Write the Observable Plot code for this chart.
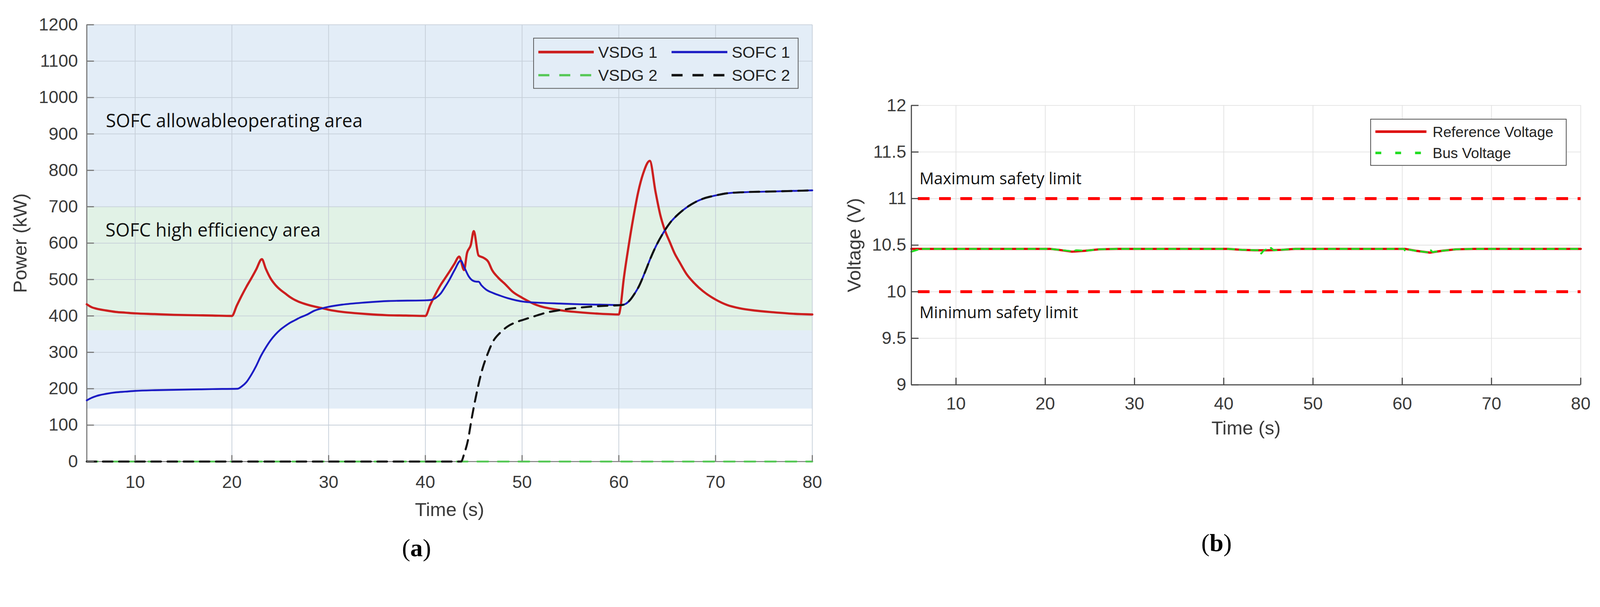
<!DOCTYPE html>
<html>
<head>
<meta charset="utf-8">
<script src="https://cdn.jsdelivr.net/npm/d3@7"></script>
<script src="https://cdn.jsdelivr.net/npm/@observablehq/plot@0.6"></script>
<style>
  html, body { margin: 0; padding: 0; background: #fff; overflow: hidden; }
  #page { position: relative; width: 4360px; height: 1555px; overflow: hidden; background: #fff; transform-origin: 0 0; }
  .panel { position: absolute; top: 0; }
  .panel svg { display: block; max-width: none; }
  .legend { position: absolute; box-sizing: border-box; }
  .legend svg { display: block; }
  .cap { position: absolute; font-family: "Liberation Serif", "Times New Roman", serif; font-size: 68px; color: #000; transform: translate(-50%, -50%); white-space: nowrap; }
</style>
</head>
<body>
<div id="page">
  <div id="left" class="panel" style="left:0; width:2300px;"></div>
  <div id="right" class="panel" style="left:2300px; width:2060px;"></div>
  <div class="cap" style="left:1135px; top:1494px;">(<b>a</b>)</div>
  <div class="cap" style="left:3315px; top:1480px;">(<b>b</b>)</div>
</div>
<script>
// fit the 4360x1555 layout into the actual viewport
(function () {
  const page = document.getElementById("page");
  const s = Math.min(window.innerWidth / 4360, window.innerHeight / 1555);
  if (isFinite(s) && s > 0 && Math.abs(s - 1) > 0.001) page.style.transform = `scale(${s})`;
})();

// ---------- shared axis values ----------
const timeDomain = [5, 80];
const timeTicks = [10, 20, 30, 40, 50, 60, 70, 80];

// ---------- panel (a): power ----------
const powerDomain = [0, 1200];
const powerTicks = [0, 100, 200, 300, 400, 500, 600, 700, 800, 900, 1000, 1100, 1200];
const allowableArea = [145, 1200];      // SOFC allowable operating area (kW)
const highEfficiencyArea = [360, 700];  // SOFC high efficiency area (kW)

// [time s, power kW]
const vsdg1 = [
  [5,432],[5.5,424],[6,420],[7,415],[8,411],[9,409],[10,407],[12,405],[14,403],[16,402],[18,401],[20,400],
  [20.5,428],[21,455],[21.5,480],[22,503],[22.5,527],[23.1,556],
  [23.5,530],[24,503],[24.5,485],[25,472],[25.5,462],[26,452],[26.5,444],[27,438],[27.8,431],[28.5,426],
  [29.2,422],[30,417],[31.4,411],[33,407],[34,405],[36,402],[38,401],[40,400],
  [40.5,430],[41,457],[41.6,486],[42,502],[42.5,522],[43,543],[43.5,563],[44,526],[44.3,572],[44.7,595],
  [45,633],[45.5,566],[46,560],[46.5,549],[46.9,526],[47.5,506],[48.3,486],[49,467],[50,450],[51.5,430],
  [53.9,416],[56.4,409],[58,406],[60,404],
  [60.15,420],[60.5,500],[61,590],[61.5,670],[62,740],[62.5,790],[63.2,826],
  [63.8,740],[64.3,676],[64.7,640],[65.3,601],[65.8,570],[66.25,549],[67,515],[67.8,490],[68.7,468],
  [70,445],[71.2,430],[72.5,421],[74,415],[76,410],[78,406],[80,404]
];
const sofc1 = [
  [5,168],[5.5,175],[6,180],[7,186],[8,190],[9,192],[10,194],[12,196],[14,197],[16,198],[18,199],[20.6,200],
  [21,206],[21.5,218],[22,238],[22.5,262],[23,290],[23.5,313],[24,333],[24.5,349],[25,362],[25.5,372],
  [26,381],[26.5,388],[27,395],[27.8,404],[28.5,414],[29.2,420],[30,425],[31.4,431],[33.8,437],[36.2,441],
  [40.1,443],[40.6,444],[41.1,450],[41.6,462],
  [42,478],[42.5,500],[43,525],[43.66,552],[44,535],[44.5,508],[44.9,497],[45.3,494],[45.5,494],[45.8,484],
  [46.25,473],[47,463],[47.7,456],[48.5,449],[50.2,439],[52,436],[53.9,434],[56,432],[58,431],[60.3,430],
  [60.7,433],[61.2,445],[61.6,460],[62.05,480],[62.7,520],[63.3,560],[63.9,595],[64.5,624],[65.3,656],
  [66.25,682],[67.4,705],[68.7,722],[70,731],[71.2,737],[73,740],[76.1,742],[80,745]
];
const vsdg2 = [[5,0],[20,0],[40,0],[60,0],[80,0]];
const sofc2 = [
  [5,0],[20,0],[40,0],[43.7,0],[44,20],[44.4,58],[44.8,120],[45.27,184],[45.8,245],[46.5,300],[47,330],
  [47.7,353],[48.5,371],[49.3,382],[50.2,390],[51.5,401],[52.5,409],[53.9,416],[55,420],[56.4,424],[58,427],
  [60.3,430],[60.7,433],[61.2,445],[61.6,460],[62.05,480],[62.7,520],[63.3,560],[63.9,595],[64.5,624],
  [65.3,656],[66.25,682],[67.4,705],[68.7,722],[70,731],[71.2,737],[73,740],[76.1,742],[80,745]
];

// ---------- panel (b): voltage ----------
const voltageDomain = [9, 12];
const voltageTicks = [9, 9.5, 10, 10.5, 11, 11.5, 12];
const safetyLimits = [11, 10];
// [time s, voltage V]
const referenceVoltage = [
  [5,10.46],[20.5,10.46],[21.5,10.45],[23,10.43],[24.5,10.44],[26,10.455],[28,10.46],[40.5,10.46],
  [42,10.45],[43.5,10.445],[45,10.445],[46.5,10.45],[48,10.46],[60.3,10.46],[61.5,10.44],[63.1,10.42],
  [64.5,10.44],[66,10.455],[68,10.46],[80,10.46]
];
const busVoltage = [
  [5,10.43],[5.5,10.445],[6,10.46],[20.5,10.46],[21.5,10.45],[23,10.435],[23.5,10.445],[24.5,10.44],
  [26,10.455],[28,10.46],[40.5,10.46],[42,10.45],[44,10.445],[44.2,10.41],[44.5,10.445],[45.3,10.47],
  [45.6,10.445],[46.5,10.45],[48,10.46],[60.2,10.46],[60.3,10.44],[60.6,10.455],[61.5,10.44],[63.1,10.42],
  [63.2,10.445],[63.4,10.425],[64.5,10.44],[66,10.455],[68,10.46],[80,10.46]
];

// ---------- styling ----------
const SANS = '"Liberation Sans", Arial, Helvetica, sans-serif';
const CAL = '"Open Sans", "Noto Sans", sans-serif';
const powerStyles = [
  {name: "VSDG 1", data: vsdg1, stroke: "#cc1f1f", width: 6, dash: null},
  {name: "SOFC 1", data: sofc1, stroke: "#1c1cc4", width: 5, dash: null},
  {name: "VSDG 2", data: vsdg2, stroke: "#55c855", width: 5, dash: "30,26"},
  {name: "SOFC 2", data: sofc2, stroke: "#111111", width: 5.5, dash: "26,18"}
];
const annotationWidths = {
  "SOFC allowableoperating area": 667,
  "SOFC high efficiency area": 677,
  "Maximum safety limit": 500,
  "Minimum safety limit": 491
};
const X = d => d[0], Y = d => d[1];

// ---------- panel (a) ----------
const leftPlot = Plot.plot({
  width: 2300, height: 1450,
  marginLeft: 236, marginRight: 87, marginTop: 67, marginBottom: 192,
  x: {domain: timeDomain},
  y: {domain: powerDomain},
  style: {fontFamily: SANS, fontSize: "48px", color: "#3a3a3a", background: "transparent", overflow: "visible"},
  marks: [
    Plot.rect([allowableArea], {x1: () => timeDomain[0], x2: () => timeDomain[1], y1: d => d[0], y2: d => d[1], fill: "#e3edf7"}),
    Plot.rect([highEfficiencyArea], {x1: () => timeDomain[0], x2: () => timeDomain[1], y1: d => d[0], y2: d => d[1], fill: "#e1f2e6"}),
    Plot.gridX(timeTicks, {stroke: "#c6cfd9", strokeOpacity: 1, strokeWidth: 2}),
    Plot.gridY(powerTicks, {stroke: "#c6cfd9", strokeOpacity: 1, strokeWidth: 2}),
    Plot.text(["SOFC allowableoperating area"], {x: () => 6.97, y: () => 918, text: d => d, textAnchor: "start", lineAnchor: "bottom", fontFamily: CAL, fontSize: 50, fill: "#111", ariaLabel: "annotation"}),
    Plot.text(["SOFC high efficiency area"], {x: () => 6.93, y: () => 618, text: d => d, textAnchor: "start", lineAnchor: "bottom", fontFamily: CAL, fontSize: 50, fill: "#111", ariaLabel: "annotation"}),
    Plot.ruleX([timeDomain[0]], {stroke: "#777", strokeWidth: 3}),
    Plot.ruleY([powerDomain[0]], {stroke: "#888", strokeWidth: 3}),
    ...powerStyles.map(s => Plot.line(s.data, {x: X, y: Y, stroke: s.stroke, strokeWidth: s.width, strokeDasharray: s.dash, curve: "monotone-x"})),
    Plot.axisY(powerTicks, {anchor: "left", tickSize: 0, tickPadding: 24, tickFormat: d => String(d), label: null, fontSize: 48}),
    Plot.axisY(powerTicks, {anchor: "left", tickSize: -20, tickFormat: () => "", label: null, stroke: "#777", strokeWidth: 3}),
    Plot.axisX(timeTicks, {anchor: "bottom", tickSize: 0, tickPadding: 38, tickFormat: d => String(d), label: null, fontSize: 48}),
    Plot.axisX(timeTicks, {anchor: "bottom", tickSize: -17, tickFormat: () => "", label: null, stroke: "#777", strokeWidth: 3}),
    Plot.text(["Power (kW)"], {frameAnchor: "left", dx: -181, rotate: -90, text: d => d, textAnchor: "middle", lineAnchor: "middle", fontSize: 52, fill: "#3a3a3a"}),
    Plot.text(["Time (s)"], {frameAnchor: "bottom", dy: 132, text: d => d, textAnchor: "middle", lineAnchor: "middle", fontSize: 52, fill: "#3a3a3a"})
  ]
});
document.getElementById("left").appendChild(leftPlot);

// ---------- panel (b) ----------
const rightPlot = Plot.plot({
  width: 2060, height: 1250,
  marginLeft: 183, marginRight: 53, marginTop: 287, marginBottom: 201,
  x: {domain: timeDomain},
  y: {domain: voltageDomain},
  style: {fontFamily: SANS, fontSize: "48px", color: "#3a3a3a", background: "transparent", overflow: "visible"},
  marks: [
    Plot.gridX(timeTicks, {stroke: "#e2e2e2", strokeOpacity: 1, strokeWidth: 2}),
    Plot.gridY(voltageTicks, {stroke: "#e2e2e2", strokeOpacity: 1, strokeWidth: 2}),
    Plot.ruleY(safetyLimits, {stroke: "#ff0000", strokeWidth: 8, strokeDasharray: "32,26", strokeDashoffset: -18}),
    Plot.text(["Maximum safety limit"], {x: () => 5.9, y: () => 11.153, text: d => d, textAnchor: "start", lineAnchor: "bottom", fontFamily: CAL, fontSize: 44, fill: "#111", ariaLabel: "annotation"}),
    Plot.text(["Minimum safety limit"], {x: () => 5.9, y: () => 9.718, text: d => d, textAnchor: "start", lineAnchor: "bottom", fontFamily: CAL, fontSize: 44, fill: "#111", ariaLabel: "annotation"}),
    Plot.line(referenceVoltage, {x: X, y: Y, stroke: "#dd0000", strokeWidth: 6}),
    Plot.line(busVoltage, {x: X, y: Y, stroke: "#22dd22", strokeWidth: 5, strokeDasharray: "18,14"}),
    Plot.ruleX([timeDomain[0]], {stroke: "#444", strokeWidth: 3}),
    Plot.ruleY([voltageDomain[0]], {stroke: "#444", strokeWidth: 3}),
    Plot.axisY(voltageTicks, {anchor: "left", tickSize: 0, tickPadding: 14, tickFormat: d => String(d), label: null, fontSize: 48}),
    Plot.axisY(voltageTicks, {anchor: "left", tickSize: -20, tickFormat: () => "", label: null, stroke: "#444", strokeWidth: 3}),
    Plot.axisX(timeTicks, {anchor: "bottom", tickSize: 0, tickPadding: 33, tickFormat: d => String(d), label: null, fontSize: 48}),
    Plot.axisX(timeTicks, {anchor: "bottom", tickSize: -19, tickFormat: () => "", label: null, stroke: "#444", strokeWidth: 3}),
    Plot.text(["Voltage (V)"], {frameAnchor: "left", dx: -155, rotate: -90, text: d => d, textAnchor: "middle", lineAnchor: "middle", fontSize: 52, fill: "#3a3a3a"}),
    Plot.text(["Time (s)"], {frameAnchor: "bottom", dy: 119, text: d => d, textAnchor: "middle", lineAnchor: "middle", fontSize: 52, fill: "#3a3a3a"})
  ]
});
document.getElementById("right").appendChild(rightPlot);

// fit annotation text widths (Calibri-like spacing of the original)
[leftPlot, rightPlot].forEach(svg => {
  svg.querySelectorAll('g[aria-label="annotation"] text').forEach(t => {
    const w = annotationWidths[t.textContent];
    if (w) { t.setAttribute("textLength", w); t.setAttribute("lengthAdjust", "spacing"); }
  });
});

// ---------- legends ----------
function legend(box, entries, opts) {
  const div = d3.select("#page").append("div").attr("class", "legend")
    .style("left", box.x + "px").style("top", box.y + "px")
    .style("width", box.w + "px").style("height", box.h + "px")
    .style("border", "2px solid " + opts.border).style("background", opts.bg);
  const svg = div.append("svg").attr("width", box.w - 4).attr("height", box.h - 4);
  entries.forEach(e => {
    svg.append("line").attr("x1", e.lx1).attr("x2", e.lx2).attr("y1", e.y).attr("y2", e.y)
      .attr("stroke", e.stroke).attr("stroke-width", e.width + 1)
      .attr("stroke-dasharray", e.dash || null);
    svg.append("text").attr("x", e.tx).attr("y", e.y).attr("dy", "0.36em")
      .attr("font-family", SANS).attr("font-size", opts.fontSize).attr("fill", "#222")
      .text(e.name);
  });
}
const colX = [{lx1: 12, lx2: 163, tx: 175}, {lx1: 375, lx2: 527, tx: 539}];
const rowY = [37, 100];
legend({x: 1453, y: 103, w: 723, h: 139},
  powerStyles.map((s, i) => ({
    name: s.name, stroke: s.stroke, width: s.width, dash: s.dash ? "30,27" : null,
    y: rowY[Math.floor(i / 2)], ...colX[i % 2]
  })),
  {border: "#555", bg: "#e3edf7", fontSize: 44});

legend({x: 3734, y: 324, w: 535, h: 128}, [
  {name: "Reference Voltage", stroke: "#dd0000", width: 6, dash: null, y: 33, lx1: 12, lx2: 151, tx: 168},
  {name: "Bus Voltage", stroke: "#22dd22", width: 6, dash: "16,38", y: 91, lx1: 12, lx2: 151, tx: 168}
], {border: "#444", bg: "#fff", fontSize: 40});
</script>
</body>
</html>
